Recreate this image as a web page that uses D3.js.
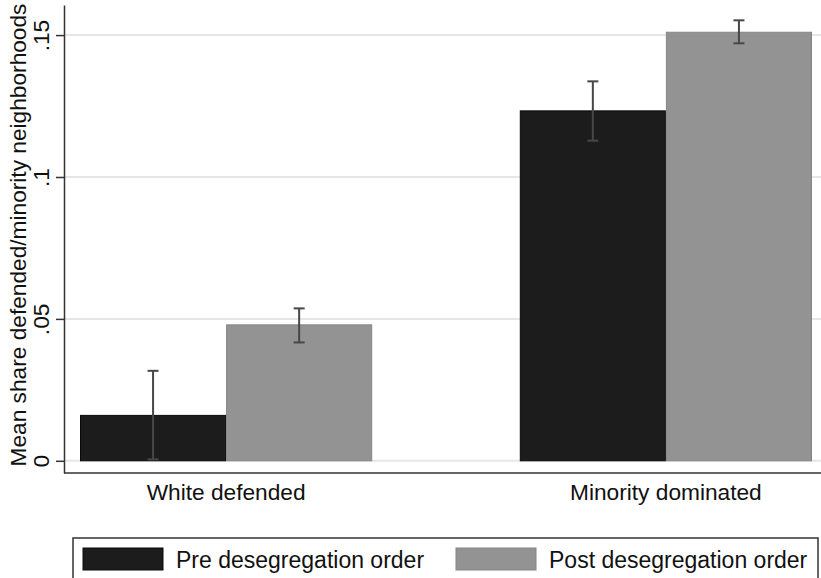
<!DOCTYPE html>
<html>
<head>
<meta charset="utf-8">
<script src="https://cdn.jsdelivr.net/npm/d3@7"></script>
<style>
    body { margin: 0; background: #fff; }
    text { font-family: "Liberation Sans", Arial, sans-serif; fill: #111; }
</style>
</head>
<body>
<div id="chart"></div>
<script>
// data
const categories = ["White defended", "Minority dominated"];
const seriesNames = ["Pre desegregation order", "Post desegregation order"];
const preValues = [0.0160, 0.1233];
const postValues = [0.0479, 0.1510];
const preLow = [0.0005, 0.1128];
const preHigh = [0.0317, 0.1337];
const postLow = [0.0417, 0.1471];
const postHigh = [0.0537, 0.1552];
const yTicks = [0, 0.05, 0.1, 0.15];
const yTickLabels = ["0", ".05", ".1", ".15"];

const width = 821, height = 578;
const colors = ["#1c1c1c", "#939393"];
const strokes = ["#0a0a0a", "#858585"];
const fontSize = "22.7px";

const svg = d3.select("#chart")
    .append("svg")
    .attr("width", width)
    .attr("height", height);

const plotLeft = 64, plotRight = 828, plotTop = 5, plotBottom = 473;

const x0 = d3.scaleBand()
    .domain(categories)
    .range([plotLeft, plotRight])
    .paddingInner(0.3356)
    .paddingOuter(0.0364);

const x1 = d3.scaleBand()
    .domain(seriesNames)
    .range([0, x0.bandwidth()]);

const y = d3.scaleLinear()
    .domain([-0.0043, 0.1606])
    .range([plotBottom, plotTop]);

// gridlines
svg.append("g")
    .selectAll("line")
    .data(yTicks)
    .join("line")
    .attr("x1", plotLeft)
    .attr("x2", width)
    .attr("y1", d => y(d))
    .attr("y2", d => y(d))
    .attr("stroke", "#e6e6e6")
    .attr("stroke-width", 2);

const rows = categories.map((c, i) => ({
    cat: c,
    vals: [
        { s: seriesNames[0], v: preValues[i], lo: preLow[i], hi: preHigh[i], k: 0 },
        { s: seriesNames[1], v: postValues[i], lo: postLow[i], hi: postHigh[i], k: 1 }
    ]
}));

const groups = svg.append("g")
    .selectAll("g")
    .data(rows)
    .join("g")
    .attr("transform", d => `translate(${x0(d.cat)},0)`);

groups.selectAll("rect")
    .data(d => d.vals)
    .join("rect")
    .attr("x", d => x1(d.s) + 0.5)
    .attr("width", x1.bandwidth() - 1)
    .attr("y", d => y(d.v))
    .attr("height", d => y(0) - y(d.v))
    .attr("fill", d => colors[d.k])
    .attr("stroke", d => strokes[d.k])
    .attr("stroke-width", 1);

// error bars
const err = groups.selectAll("g.err")
    .data(d => d.vals)
    .join("g")
    .attr("class", "err")
    .attr("stroke", "#474747")
    .attr("stroke-width", 2);

const cx = d => x1(d.s) + x1.bandwidth() / 2;
err.append("line")
    .attr("x1", cx).attr("x2", cx)
    .attr("y1", d => y(d.lo)).attr("y2", d => y(d.hi));
err.append("line")
    .attr("x1", d => cx(d) - 5.5).attr("x2", d => cx(d) + 5.5)
    .attr("y1", d => y(d.hi)).attr("y2", d => y(d.hi));
err.append("line")
    .attr("x1", d => cx(d) - 5.5).attr("x2", d => cx(d) + 5.5)
    .attr("y1", d => y(d.lo)).attr("y2", d => y(d.lo));

// y axis
const yAxis = svg.append("g")
    .attr("transform", `translate(${plotLeft},0)`)
    .call(d3.axisLeft(y)
        .tickValues(yTicks)
        .tickFormat((d, i) => yTickLabels[i])
        .tickSize(8)
        .tickSizeOuter(0));

yAxis.select(".domain").attr("stroke", "#333").attr("stroke-width", 1.5);
yAxis.selectAll(".tick line").attr("stroke", "#333").attr("stroke-width", 1.5);
yAxis.selectAll(".tick text")
    .attr("x", null)
    .attr("dy", null)
    .attr("transform", "translate(-15,0) rotate(-90)")
    .attr("text-anchor", "middle")
    .style("font-size", fontSize)
    .style("font-family", "'Liberation Sans', Arial, sans-serif")
    .attr("fill", "#111");

// x axis line
svg.append("line")
    .attr("x1", plotLeft)
    .attr("x2", width)
    .attr("y1", plotBottom)
    .attr("y2", plotBottom)
    .attr("stroke", "#333")
    .attr("stroke-width", 1.5);

svg.append("g")
    .selectAll("text")
    .data(categories)
    .join("text")
    .attr("x", d => x0(d) + x0.bandwidth() / 2)
    .attr("y", 500)
    .attr("text-anchor", "middle")
    .style("font-size", fontSize)
    .text(d => d);

svg.append("text")
    .attr("transform", `translate(26,${(plotTop + plotBottom - 8) / 2}) rotate(-90)`)
    .attr("text-anchor", "middle")
    .style("font-size", fontSize)
    .text("Mean share defended/minority neighborhoods");

// legend
svg.append("rect")
    .attr("x", 73)
    .attr("y", 538)
    .attr("width", 745)
    .attr("height", 60)
    .attr("fill", "none")
    .attr("stroke", "#333")
    .attr("stroke-width", 1.5);

const legendX = [83, 456];
const legend = svg.append("g")
    .selectAll("g")
    .data(seriesNames)
    .join("g")
    .attr("transform", (d, i) => `translate(${legendX[i]},548)`);

legend.append("rect")
    .attr("width", 80)
    .attr("height", 22)
    .attr("fill", (d, i) => colors[i])
    .attr("stroke", (d, i) => strokes[i]);

legend.append("text")
    .attr("x", 93)
    .attr("y", 20)
    .style("font-size", "23px")
    .text(d => d);
</script>
</body>
</html>
